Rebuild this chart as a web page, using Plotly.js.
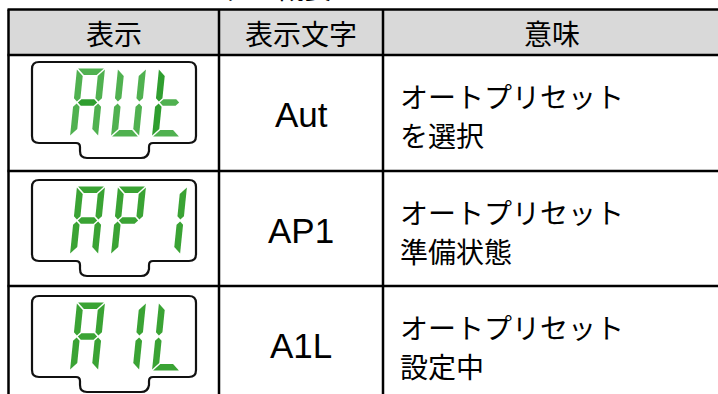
<!DOCTYPE html>
<html>
<head>
<meta charset="utf-8">
<script src="https://cdn.plot.ly/plotly-3.0.1.min.js"></script>
<style>html,body{margin:0;padding:0;background:#fff;}#chart{width:718px;height:394px;}</style>
</head>
<body>
<div id="chart"></div>
<script>
// ---- data ----
const titleText = "オートプリセット概要";
const headers = ["表示", "表示文字", "意味"];
const codes = ["Aut", "AP1", "A1L"];
const meaningLine1 = ["オートプリセット", "オートプリセット", "オートプリセット"];
const meaningLine2 = ["を選択", "準備状態", "設定中"];
// 7-segment display contents: lit segments for each of the 3 digit cells
const lcdSegments = [
  ["abcefg", "bcdef", "defg"],
  ["abcefg", "abefg", "bc"],
  ["abcefg", "bc", "def"]
];
// segments drawn in the darker green (row 1 only)
const lcdDarkSegments = [
  ["g", "", "ef"],
  ["", "", ""],
  ["", "", ""]
];

// ---- layout geometry ----
const W = 718, Hpx = 394;
const colX = [8.5, 219, 383, 721];
const rowY = [9.5, 55, 171, 286, 394];
const lightGreen = "#50b150", darkGreen = "#2f9e2f", rowGreen = "#3aa334";

const shapes = [];
const annotations = [];

// header background
shapes.push({type: "rect", xref: "x", yref: "y", x0: colX[0], x1: colX[3], y0: rowY[0], y1: rowY[1],
  fillcolor: "#d9d9d9", line: {width: 0}, layer: "below"});

// horizontal lines
for (let i = 0; i < 4; i++) {
  shapes.push({type: "line", xref: "x", yref: "y", x0: colX[0] - 1, x1: colX[3], y0: rowY[i], y1: rowY[i],
    line: {color: "#000", width: 2.5}});
}
// vertical lines
for (let j = 0; j < 3; j++) {
  shapes.push({type: "line", xref: "x", yref: "y", x0: colX[j], x1: colX[j], y0: rowY[0], y1: rowY[4] + 2,
    line: {color: "#000", width: 2.5}});
}

// title (mostly cut off at the top)
annotations.push({xref: "x", yref: "y", x: 50, y: 9, xanchor: "left", yanchor: "bottom", showarrow: false,
  text: titleText, font: {family: "Noto Sans CJK JP", size: 28, color: "#000"}});

// headers
headers.forEach((h, j) => {
  annotations.push({xref: "x", yref: "y", x: (colX[j] + colX[j + 1]) / 2, y: (rowY[0] + rowY[1]) / 2 + 1,
    xanchor: "center", yanchor: "middle", showarrow: false, text: h,
    font: {family: "Noto Sans CJK JP", size: 28, color: "#000"}});
});

// rows
codes.forEach((c, i) => {
  const top = rowY[i + 1];
  const rowMid = top + 58;
  annotations.push({xref: "x", yref: "y", x: (colX[1] + colX[2]) / 2, y: rowMid + 1,
    xanchor: "center", yanchor: "middle", showarrow: false, text: c,
    font: {family: "Liberation Sans, Arial", size: 35, color: "#000"}});
  annotations.push({xref: "x", yref: "y", x: 398, y: rowMid - 17, xanchor: "left", yanchor: "middle",
    showarrow: false, text: meaningLine1[i], font: {family: "Noto Sans CJK JP", size: 28, color: "#000"}});
  annotations.push({xref: "x", yref: "y", x: 398, y: rowMid + 22, xanchor: "left", yanchor: "middle",
    showarrow: false, text: meaningLine2[i], font: {family: "Noto Sans CJK JP", size: 28, color: "#000"}});
});

// LCD outline
function lcdPath(T) {
  return `M 39,${T} H 189 Q 196,${T} 196,${T + 7} V ${T + 74} Q 196,${T + 81} 189,${T + 81} H 153 ` +
    `Q 149,${T + 81} 149,${T + 85} V ${T + 89} Q 148,${T + 96} 141,${T + 96} H 87 Q 80,${T + 96} 80,${T + 89} ` +
    `V ${T + 85} Q 80,${T + 81} 76,${T + 81} H 39 Q 32,${T + 81} 32,${T + 74} V ${T + 7} Q 32,${T} 39,${T} Z`;
}

// 7-segment glyph template
const DW = 28, DH = 68, th = 6.5, gp = 1.1, sl = 7;
function segPoly(s) {
  const h2 = DH / 2;
  const f = [[0, gp], [th, th + gp], [th, h2 - th / 2 - gp], [th / 2, h2 - gp], [0, h2 - th / 2 - gp]];
  const e = f.map(p => [p[0], DH - p[1]]);
  const mirror = pts => pts.map(p => [DW - p[0], p[1]]);
  switch (s) {
    case "a": return [[gp, 0], [DW - gp, 0], [DW - th - gp, th], [th + gp, th]];
    case "d": return [[gp, DH], [DW - gp, DH], [DW - th - gp, DH - th], [th + gp, DH - th]];
    case "g": return [[th / 2 + gp, h2], [th + gp, h2 - th / 2], [DW - th - gp, h2 - th / 2], [DW - th / 2 - gp, h2],
      [DW - th - gp, h2 + th / 2], [th + gp, h2 + th / 2]];
    case "f": return f;
    case "e": return e;
    case "b": return mirror(f);
    case "c": return mirror(e);
  }
}
const digitX = [70, 111, 152];
const lcdTops = [62, 180, 296];

lcdTops.forEach((T, i) => {
  shapes.push({type: "path", xref: "x", yref: "y", path: lcdPath(T), line: {color: "#111", width: 2.2},
    fillcolor: "rgba(0,0,0,0)"});
  const y0 = T + 6.5;
  lcdSegments[i].forEach((segs, k) => {
    const x0 = digitX[k];
    segs.split("").forEach(s => {
      const pts = segPoly(s).map(p => [x0 + p[0] + sl * (DH - p[1]) / DH, y0 + p[1]]);
      const path = "M " + pts.map(p => p[0].toFixed(2) + "," + p[1].toFixed(2)).join(" L ") + " Z";
      let col = rowGreen;
      if (i === 0) col = lcdDarkSegments[i][k].includes(s) ? darkGreen : lightGreen;
      shapes.push({type: "path", xref: "x", yref: "y", path: path, fillcolor: col, line: {width: 0}});
    });
  });
});

const layout = {
  width: W, height: Hpx,
  margin: {l: 0, r: 0, t: 0, b: 0},
  paper_bgcolor: "#fff", plot_bgcolor: "#fff",
  xaxis: {range: [0, W], visible: false, fixedrange: true},
  yaxis: {range: [Hpx, 0], visible: false, fixedrange: true},
  shapes: shapes, annotations: annotations, showlegend: false
};
Plotly.newPlot("chart", [{x: [], y: [], type: "scatter", mode: "markers", hoverinfo: "skip"}], layout,
  {displayModeBar: false, staticPlot: true});
</script>
</body>
</html>
